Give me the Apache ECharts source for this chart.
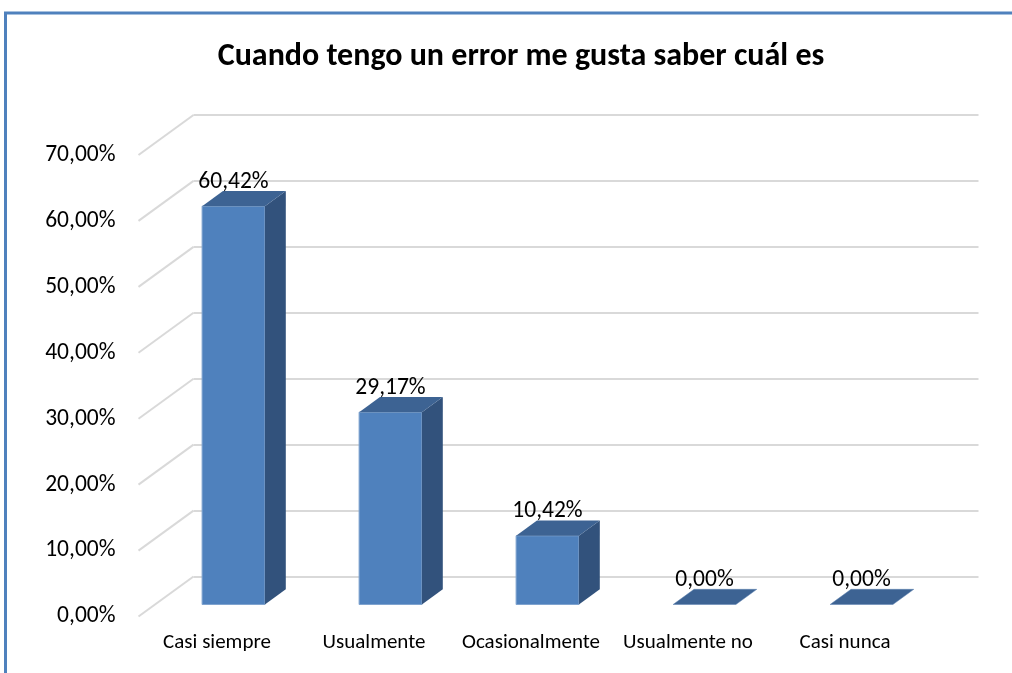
<!DOCTYPE html>
<html>
<head>
<meta charset="utf-8">
<script src="https://cdn.jsdelivr.net/npm/echarts@6/dist/echarts.min.js"></script>
<style>
  html, body { margin: 0; padding: 0; background: #fff; }
  #main { width: 1012px; height: 673px; }
</style>
</head>
<body>
<div id="main"></div>
<script>
var categories = ['Casi siempre', 'Usualmente', 'Ocasionalmente', 'Usualmente no', 'Casi nunca'];
var values = [60.42, 29.17, 10.42, 0, 0];
var yTicks = [0, 10, 20, 30, 40, 50, 60, 70];

var FONT = 'Carlito, Lato, sans-serif';
// oblique depth of the 3D box (px) and where the bars sit inside it
var DX = 55, DY = -40, D0 = 0.3, D1 = 0.68;

function pct(v) {
  return v.toFixed(2).replace('.', ',') + '%';
}

var myChart = echarts.init(document.getElementById('main'));

var option = {
  backgroundColor: '#fff',
  animation: false,
  title: {
    text: 'Cuando tengo un error me gusta saber cuál es',
    left: 516,
    textAlign: 'center',
    top: 36,
    textStyle: { fontFamily: FONT, fontSize: 32, fontWeight: 'bold', color: '#000' }
  },
  graphic: [
    {
      type: 'polyline',
      shape: { points: [[5.5, 700], [5.5, 13], [1030, 13]] },
      style: { stroke: '#4F81BD', lineWidth: 3, fill: null },
      z: 10
    }
  ],
  grid: [
    // front plane: axis labels + categories
    { left: 138.5, right: 88.5, top: 155, bottom: 56.5 },
    // back wall: gridlines
    { left: 193.5, right: 33.5, top: 115, bottom: 96.5 }
  ],
  xAxis: [
    {
      type: 'category',
      gridIndex: 0,
      data: categories,
      axisLine: { show: false },
      axisTick: { show: false },
      axisLabel: { interval: 0, fontFamily: FONT, fontSize: 21, color: '#000', margin: 16 }
    },
    {
      type: 'category',
      gridIndex: 1,
      data: categories,
      show: false
    }
  ],
  yAxis: [
    {
      type: 'value',
      gridIndex: 0,
      min: 0,
      max: 70,
      interval: 10,
      splitLine: { show: false },
      axisLine: { show: false },
      axisTick: { show: false },
      axisLabel: {
        fontFamily: FONT, fontSize: 23.5, color: '#000', margin: 23,
        formatter: function (v) { return pct(v); }
      }
    },
    {
      type: 'value',
      gridIndex: 1,
      min: 0,
      max: 70,
      interval: 10,
      axisLine: { show: false },
      axisTick: { show: false },
      axisLabel: { show: false },
      splitLine: { lineStyle: { color: '#D9D9D9', width: 2 } }
    }
  ],
  series: [
    {
      // diagonal gridlines on the left wall
      type: 'custom',
      xAxisIndex: 0,
      yAxisIndex: 0,
      silent: true,
      data: yTicks.map(function (t) { return [0, t]; }),
      renderItem: function (params, api) {
        var cs = params.coordSys;
        var y = api.coord([0, api.value(1)])[1];
        return {
          type: 'line',
          shape: { x1: cs.x, y1: y, x2: cs.x + DX, y2: y + DY },
          style: { stroke: '#D9D9D9', lineWidth: 2 }
        };
      }
    },
    {
      type: 'custom',
      xAxisIndex: 0,
      yAxisIndex: 0,
      data: values.map(function (v, i) { return [i, v]; }),
      renderItem: function (params, api) {
        var v = api.value(1);
        var base = api.coord([api.value(0), 0]);
        var top = api.coord([api.value(0), v]);
        var bw = api.size([1, 0])[0] * 0.4;
        var xl = base[0] - bw / 2 + D0 * DX;
        var xr = xl + bw;
        var yb = base[1] + D0 * DY;
        var yt = top[1] + D0 * DY;
        var ox = (D1 - D0) * DX, oy = (D1 - D0) * DY;
        var children = [];
        if (v > 0) {
          children.push({
            type: 'rect',
            shape: { x: xl, y: yt, width: bw, height: yb - yt },
            style: { fill: '#4F81BD', stroke: '#7FA3CF', lineWidth: 1 }
          });
          children.push({
            type: 'polygon',
            shape: { points: [[xr, yt], [xr + ox, yt + oy], [xr + ox, yb + oy], [xr, yb]] },
            style: { fill: '#32527C' }
          });
        }
        children.push({
          type: 'polygon',
          shape: { points: [[xl, yt], [xr, yt], [xr + ox, yt + oy], [xl + ox, yt + oy]] },
          style: { fill: '#3D6393', stroke: v > 0 ? null : '#5A80B0', lineWidth: 0.5 }
        });
        children.push({
          type: 'text',
          style: {
            text: pct(v),
            x: (xl + xr) / 2,
            y: yt + oy + 3,
            align: 'center',
            verticalAlign: 'bottom',
            fill: '#000',
            font: '23.5px ' + FONT
          }
        });
        return { type: 'group', children: children };
      }
    }
  ]
};

myChart.setOption(option);
</script>
</body>
</html>
